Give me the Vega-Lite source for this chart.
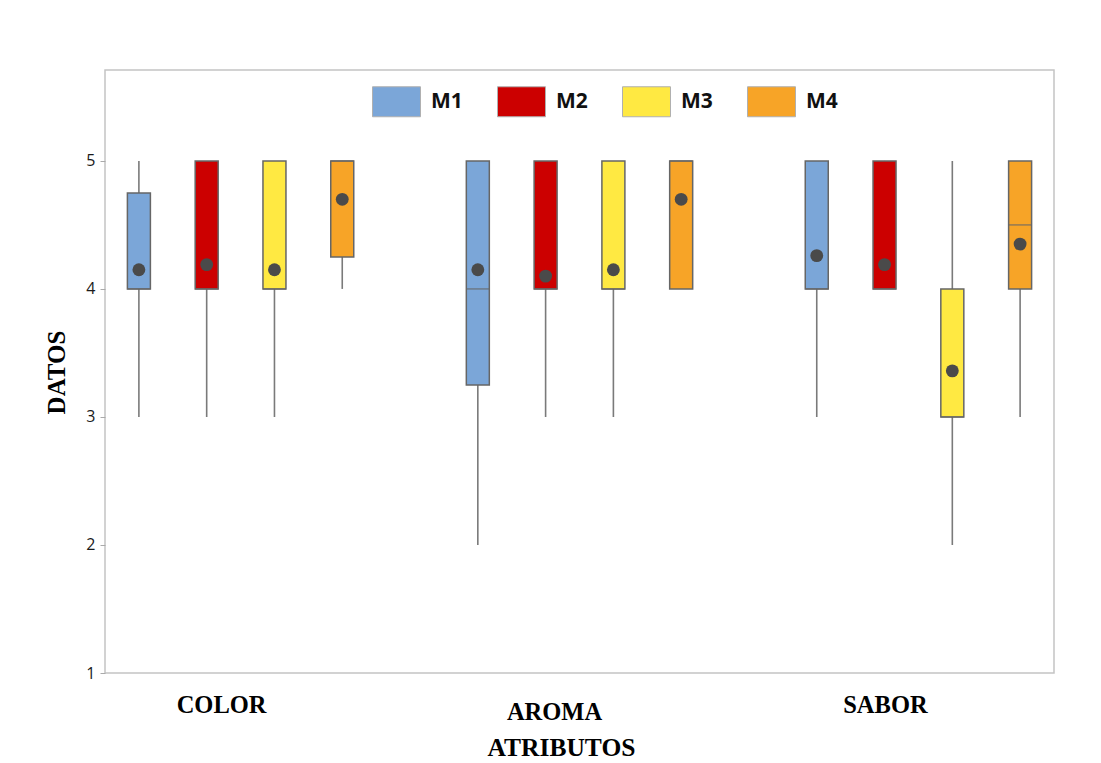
{
  "$schema": "https://vega.github.io/schema/vega-lite/v6.json",
  "width": 949,
  "height": 603,
  "autosize": {"type": "none"},
  "padding": {"left": 105, "top": 70, "right": 47, "bottom": 90},
  "background": "white",
  "config": {
    "view": {"stroke": "#c4c4c4", "strokeWidth": 1.5},
    "axis": {"grid": false}
  },
  "data": {
    "values": [
      {"atributo": "COLOR", "muestra": "M1", "min": 3, "q1": 4, "mediana": 4, "q3": 4.75, "max": 5, "media": 4.15},
      {"atributo": "COLOR", "muestra": "M2", "min": 3, "q1": 4, "mediana": 4, "q3": 5, "max": 5, "media": 4.19},
      {"atributo": "COLOR", "muestra": "M3", "min": 3, "q1": 4, "mediana": 4, "q3": 5, "max": 5, "media": 4.15},
      {"atributo": "COLOR", "muestra": "M4", "min": 4, "q1": 4.25, "mediana": 5, "q3": 5, "max": 5, "media": 4.7},
      {"atributo": "AROMA", "muestra": "M1", "min": 2, "q1": 3.25, "mediana": 4, "q3": 5, "max": 5, "media": 4.15},
      {"atributo": "AROMA", "muestra": "M2", "min": 3, "q1": 4, "mediana": 4, "q3": 5, "max": 5, "media": 4.1},
      {"atributo": "AROMA", "muestra": "M3", "min": 3, "q1": 4, "mediana": 4, "q3": 5, "max": 5, "media": 4.15},
      {"atributo": "AROMA", "muestra": "M4", "min": 4, "q1": 4, "mediana": 5, "q3": 5, "max": 5, "media": 4.7},
      {"atributo": "SABOR", "muestra": "M1", "min": 3, "q1": 4, "mediana": 4, "q3": 5, "max": 5, "media": 4.26},
      {"atributo": "SABOR", "muestra": "M2", "min": 4, "q1": 4, "mediana": 4, "q3": 5, "max": 5, "media": 4.19},
      {"atributo": "SABOR", "muestra": "M3", "min": 2, "q1": 3, "mediana": 3, "q3": 4, "max": 5, "media": 3.36},
      {"atributo": "SABOR", "muestra": "M4", "min": 3, "q1": 4, "mediana": 4.5, "q3": 5, "max": 5, "media": 4.35}
    ]
  },
  "encoding": {
    "x": {
      "field": "atributo",
      "type": "nominal",
      "sort": ["COLOR", "AROMA", "SABOR"],
      "scale": {"paddingInner": 0.2, "paddingOuter": 0},
      "axis": {
        "title": "ATRIBUTOS",
        "labelAngle": 0,
        "domain": false,
        "ticks": false,
        "labelFont": "Liberation Serif",
        "labelFontWeight": "bold",
        "labelFontSize": 24.5,
        "labelColor": "#000000",
        "labelBaseline": "middle",
        "labelPadding": {"condition": {"test": "datum.value === 'AROMA'", "value": 39}, "value": 32},
        "labelOffset": {"condition": [{"test": "datum.value === 'AROMA'", "value": -25}, {"test": "datum.value === 'SABOR'", "value": -33}], "value": -19},
        "titleFont": "Liberation Serif",
        "titleFontWeight": "bold",
        "titleFontSize": 25.5,
        "titleColor": "#000000",
        "titleX": 456,
        "titleY": 74,
        "titleAlign": "center",
        "titleBaseline": "middle"
      }
    },
    "xOffset": {
      "field": "muestra",
      "type": "nominal",
      "scale": {"paddingInner": 0, "paddingOuter": 0}
    }
  },
  "layer": [
    {
      "mark": {"type": "rule", "color": "#7a7a7a", "strokeWidth": 1.6},
      "encoding": {
        "y": {
          "field": "min",
          "type": "quantitative",
          "scale": {"domain": [1, 5.71], "nice": false, "zero": false},
          "axis": {
            "title": "DATOS",
            "values": [1, 2, 3, 4, 5],
            "format": "d",
            "domain": false,
            "ticks": true,
            "tickSize": 5,
            "tickColor": "#aaaaaa",
            "labelFont": "Open Sans",
            "labelFontSize": 16,
            "labelColor": "#1a1a1a",
            "labelPadding": 5,
            "titleFont": "Liberation Serif",
            "titleFontWeight": "bold",
            "titleFontSize": 25,
            "titleColor": "#000000",
            "titleX": -49,
            "titleY": 302,
            "titleAlign": "center",
            "titleBaseline": "middle",
            "titleAngle": -90
          }
        },
        "y2": {"field": "max"}
      }
    },
    {
      "mark": {"type": "bar", "size": 23, "stroke": "#666666", "strokeWidth": 1.5},
      "encoding": {
        "y": {"field": "q1", "type": "quantitative"},
        "y2": {"field": "q3"},
        "color": {
          "field": "muestra",
          "type": "nominal",
          "scale": {"domain": ["M1", "M2", "M3", "M4"], "range": ["#7BA6D8", "#CC0000", "#FFE942", "#F7A427"]},
          "legend": {
            "title": null,
            "orient": "none",
            "direction": "horizontal",
            "legendX": 267,
            "legendY": 7,
            "symbolType": "M-1,-0.625H1V0.625H-1Z",
            "symbolSize": 2304,
            "symbolStrokeColor": "#b0b0b0",
            "symbolStrokeWidth": 1,
            "symbolOpacity": 1,
            "labelFont": "Open Sans",
            "labelFontWeight": "bold",
            "labelFontSize": 21,
            "labelColor": "#111111",
            "labelOffset": 10,
            "columnPadding": 32,
            "padding": 0
          }
        }
      }
    },
    {
      "mark": {"type": "tick", "size": 23, "thickness": 1.5, "color": "#666666"},
      "encoding": {
        "y": {"field": "mediana", "type": "quantitative"}
      }
    },
    {
      "mark": {"type": "point", "filled": true, "shape": "circle", "size": 165, "color": "#4a4a4a", "opacity": 1},
      "encoding": {
        "y": {"field": "media", "type": "quantitative"}
      }
    }
  ]
}
